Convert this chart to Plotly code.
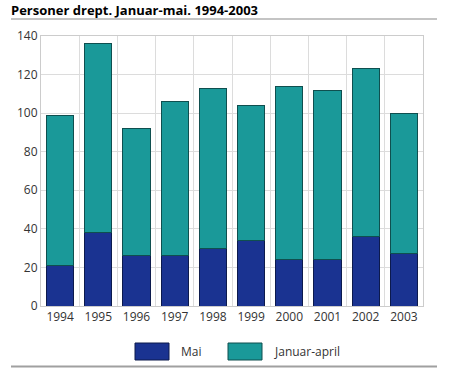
import plotly.graph_objects as go

years = ["1994", "1995", "1996", "1997", "1998", "1999", "2000", "2001", "2002", "2003"]
mai = [21, 38, 26, 26, 30, 34, 24, 24, 36, 27]
januar_april = [78, 98, 66, 80, 83, 70, 90, 88, 87, 73]
y_ticks = [0, 20, 40, 60, 80, 100, 120, 140]

series_names = ["Mai", "Januar-april"]
series_colors = ["#1a3391", "#1a9999"]
series_edges = ["#0c1a4d", "#0f4f4f"]

fig = go.Figure()
for name, vals, col, edge in zip(series_names, [mai, januar_april], series_colors, series_edges):
    fig.add_trace(go.Bar(x=years, y=vals, name=name, showlegend=False,
                         marker=dict(color=col, line=dict(color=edge, width=1))))

# plot area: 41..423 px horizontally (382), 36..306 px vertically (270)
PW, PH = 382.0, 270.0
L, T, B = 41.0, 36.0, 306.0

def px(x):
    return (x - L) / PW

def py(y):
    return (B - y) / PH

fig.update_layout(
    width=449, height=368,
    barmode="stack", bargap=0.29,
    paper_bgcolor="white", plot_bgcolor="white",
    margin=dict(l=41, r=26, t=36, b=62),
    font=dict(family="Open Sans", size=12, color="#333333"),
    title=dict(text="<b>Personer drept. Januar-mai. 1994-2003</b>",
               x=11 / 449, xanchor="left", y=1 - 10.5 / 368, yanchor="middle",
               font=dict(family="Open Sans", size=13, color="#000000")),
    showlegend=False,
)
fig.update_xaxes(type="category", tickson="boundaries", showgrid=True,
                 gridcolor="#dcdcdc", gridwidth=1, showline=True, linecolor="#cccccc",
                 mirror=True, ticks="", tickfont=dict(size=12))
fig.update_yaxes(range=[0, 140], tickvals=y_ticks, showgrid=True, gridcolor="#dcdcdc",
                 gridwidth=1, showline=True, linecolor="#cccccc", mirror=True,
                 ticks="", zeroline=False, tickfont=dict(size=12))

# separator lines under the title and at the bottom
fig.add_shape(type="line", xref="paper", yref="paper", x0=px(11), x1=px(437),
              y0=py(19), y1=py(19), line=dict(color="#c4c4c4", width=2))
fig.add_shape(type="line", xref="paper", yref="paper", x0=px(11), x1=px(437),
              y0=py(366.5), y1=py(366.5), line=dict(color="#a0a0a0", width=2))

# legend keys (large swatches, as in the reference)
legend_pos = [(135, 169, 179), (228, 262, 272)]
for (sx0, sx1, tx), name, col, edge in zip(legend_pos, series_names, series_colors, series_edges):
    fig.add_shape(type="rect", xref="paper", yref="paper",
                  x0=px(sx0), x1=px(sx1), y0=py(360), y1=py(343),
                  fillcolor=col, line=dict(color=edge, width=1))
    fig.add_annotation(xref="paper", yref="paper", x=px(tx), y=py(351.5),
                       xanchor="left", yanchor="middle", text=name, showarrow=False,
                       font=dict(size=12, color="#333333"))

fig.write_html("out.html", config={"displayModeBar": False},
               post_script="document.body.style.margin='0';document.body.style.overflow='hidden';")
